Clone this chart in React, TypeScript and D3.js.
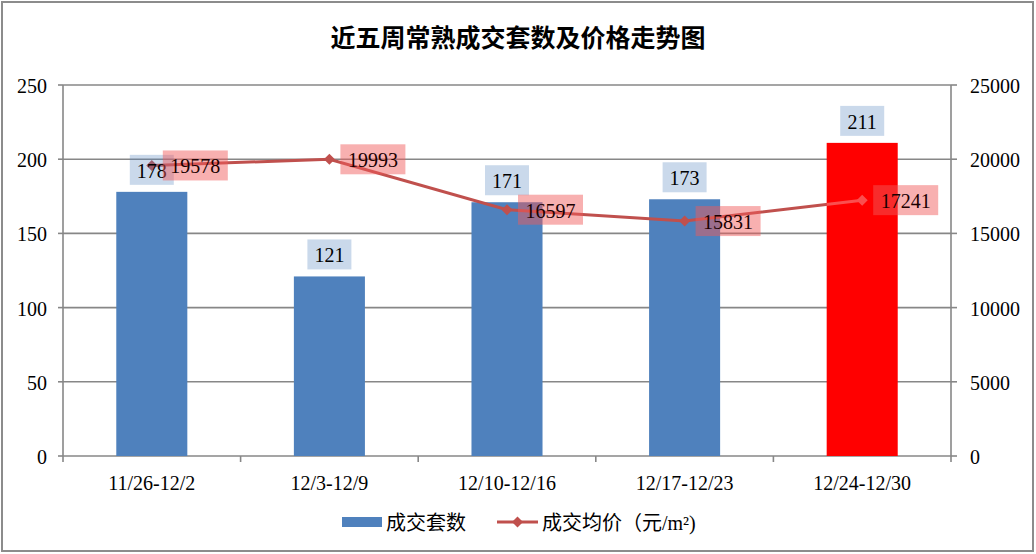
import React from "react";
import * as d3 from "d3";

const categories = ["11/26-12/2", "12/3-12/9", "12/10-12/16", "12/17-12/23", "12/24-12/30"];
const counts = [178, 121, 171, 173, 211];
const prices = [19578, 19993, 16597, 15831, 17241];
const leftTicks = [0, 50, 100, 150, 200, 250];
const rightTicks = [0, 5000, 10000, 15000, 20000, 25000];
const title = "近五周常熟成交套数及价格走势图";
const legendBar = "成交套数";
const legendLine = "成交均价（元/m²)";

const W = 1036;
const H = 554;
const left = 63;
const right = 951;
const top = 85;
const bottom = 456;

const serif = "Liberation Serif, Times New Roman, serif";
const cjk = "Liberation Serif, Noto Sans CJK SC, serif";

export default function App() {
  const x = d3.scaleBand<string>().domain(categories).range([left, right]).padding(0);
  const yL = d3.scaleLinear().domain([0, 250]).range([bottom, top]);
  const yR = d3.scaleLinear().domain([0, 25000]).range([bottom, top]);
  const step = x.step();
  const bw = step * 0.4;
  const cx = (c: string) => (x(c) as number) + step / 2;

  const line = d3
    .line<number>()
    .x((_, i) => cx(categories[i]))
    .y((d) => yR(d));

  const grid = "#878787";
  const lineColor = "#C0504D";
  const diamond = (px: number, py: number, r: number) =>
    `M${px},${py - r}L${px + r},${py}L${px},${py + r}L${px - r},${py}Z`;

  const lastIdx = categories.length - 1;
  const lastX = cx(categories[lastIdx]) - bw / 2;
  const lastY = yL(counts[lastIdx]);

  return (
    <svg width={W} height={H} style={{ position: "absolute", left: 0, top: 0, background: "#fff" }}>
      <defs>
        <clipPath id="lastbar">
          <rect x={lastX} y={lastY} width={bw} height={bottom - lastY} />
        </clipPath>
      </defs>
      <rect x={0} y={0} width={W} height={H} fill="#fff" />
      <rect x={2} y={2} width={1031} height={549} fill="none" stroke="#8c8c8c" strokeWidth={2} />
      <text
        x={518}
        y={47}
        textAnchor="middle"
        fontFamily="Noto Sans CJK SC, sans-serif"
        fontWeight={700}
        fontSize={25}
        fill="#000"
      >
        {title}
      </text>

      {leftTicks.map((t) => (
        <line key={"g" + t} x1={left} x2={right} y1={yL(t)} y2={yL(t)} stroke={grid} strokeWidth={1.6} />
      ))}
      <line x1={left} x2={left} y1={top} y2={bottom} stroke={grid} strokeWidth={1.6} />
      <line x1={right} x2={right} y1={top} y2={bottom} stroke={grid} strokeWidth={1.6} />
      {leftTicks.map((t) => (
        <g key={"lt" + t}>
          <line x1={left - 5} x2={left} y1={yL(t)} y2={yL(t)} stroke={grid} strokeWidth={1.6} />
          <text x={47} y={yL(t) + 1} textAnchor="end" dominantBaseline="central" fontFamily={serif} fontSize={20} fill="#000">
            {t}
          </text>
        </g>
      ))}
      {rightTicks.map((t) => (
        <g key={"rt" + t}>
          <line x1={right} x2={right + 6} y1={yR(t)} y2={yR(t)} stroke={grid} strokeWidth={1.6} />
          <text x={970} y={yR(t) + 1} textAnchor="start" dominantBaseline="central" fontFamily={serif} fontSize={20} fill="#000">
            {t}
          </text>
        </g>
      ))}
      {d3.range(categories.length + 1).map((i) => (
        <line key={"xt" + i} x1={left + i * step} x2={left + i * step} y1={bottom} y2={bottom + 6} stroke={grid} strokeWidth={1.6} />
      ))}
      {categories.map((c) => (
        <text key={"cat" + c} x={cx(c)} y={483} textAnchor="middle" dominantBaseline="central" fontFamily={serif} fontSize={20} fill="#000">
          {c}
        </text>
      ))}

      {counts.map((v, i) =>
        i === lastIdx ? null : (
          <rect key={"b" + i} x={cx(categories[i]) - bw / 2} y={yL(v)} width={bw} height={bottom - yL(v)} fill="#4F81BD" />
        )
      )}

      <path d={line(prices) || ""} fill="none" stroke={lineColor} strokeWidth={3} />
      {prices.map((v, i) => (
        <path key={"m" + i} d={diamond(cx(categories[i]), yR(v), 5.5)} fill={lineColor} />
      ))}

      <rect x={lastX} y={lastY} width={bw} height={bottom - lastY} fill="#FF0000" />
      <g clipPath="url(#lastbar)" opacity={0.45}>
        <path d={line(prices) || ""} fill="none" stroke="#f4b0b0" strokeWidth={3} />
        <path d={diamond(cx(categories[lastIdx]), yR(prices[lastIdx]), 5.5)} fill="#f4b0b0" />
      </g>

      {counts.map((v, i) => {
        const px = cx(categories[i]);
        const by = yL(v) - 7;
        return (
          <g key={"cl" + i}>
            <rect x={px - 22} y={by - 30} width={44} height={30} fill="rgba(79,129,189,0.3)" />
            <text x={px} y={by - 14} textAnchor="middle" dominantBaseline="central" fontFamily={serif} fontSize={20} fill="#000">
              {v}
            </text>
          </g>
        );
      })}

      {prices.map((v, i) => {
        const px = cx(categories[i]);
        const py = yR(v);
        return (
          <g key={"pl" + i}>
            <rect x={px + 11} y={py - 15} width={65} height={30} fill="rgba(240,90,90,0.48)" />
            <text x={px + 43.5} y={py + 1} textAnchor="middle" dominantBaseline="central" fontFamily={serif} fontSize={20} fill="#1a0000">
              {v}
            </text>
          </g>
        );
      })}

      <rect x={342} y={517} width={40} height={10} fill="#4F81BD" />
      <text x={386} y={523} dominantBaseline="central" fontFamily={cjk} fontSize={20} fill="#000">
        {legendBar}
      </text>
      <line x1={497} x2={538} y1={522} y2={522} stroke={lineColor} strokeWidth={3} />
      <path d={diamond(517.5, 522, 5.5)} fill={lineColor} />
      <text x={542} y={523} dominantBaseline="central" fontFamily={cjk} fontSize={20} fill="#000">
        {legendLine}
      </text>
    </svg>
  );
}
